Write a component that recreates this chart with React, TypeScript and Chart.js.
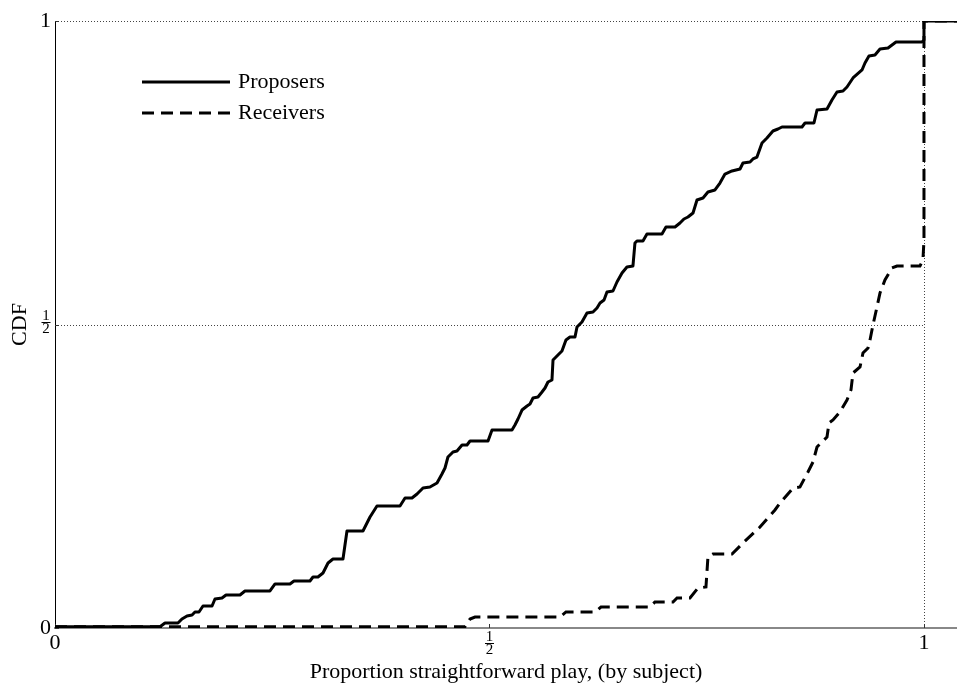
import { useEffect, useRef } from 'react';
import { Chart, registerables } from 'chart.js';

Chart.register(...registerables);

const seriesLabels = ['Proposers', 'Receivers'];

const proposersX = [
  0, 0.1208, 0.1266, 0.1415, 0.1461, 0.1519, 0.1577, 0.1611, 0.1657, 0.1703, 0.1807, 0.1841,
  0.1922, 0.1968, 0.2129, 0.2186, 0.2474, 0.2532, 0.2704, 0.275, 0.2934, 0.2969, 0.3026, 0.3084,
  0.3142, 0.3199, 0.3314, 0.336, 0.3544, 0.3625, 0.3705, 0.397, 0.4028, 0.4108, 0.4166, 0.4235,
  0.4315, 0.4396, 0.4453, 0.4488, 0.4522, 0.458, 0.4626, 0.4684, 0.4741, 0.4776, 0.4983, 0.5029,
  0.5259, 0.5293, 0.5328, 0.5374, 0.5432, 0.5466, 0.5501, 0.5558, 0.5604, 0.5639, 0.5673, 0.5719,
  0.5731, 0.5788, 0.5834, 0.588, 0.5926, 0.5984, 0.6007, 0.6064, 0.6122, 0.6191, 0.6237, 0.6272,
  0.6318, 0.6352, 0.6421, 0.6467, 0.6525, 0.6582, 0.6651, 0.6674, 0.6697, 0.6766, 0.6812, 0.6985,
  0.7031, 0.7135, 0.7192, 0.7238, 0.7284, 0.7342, 0.7388, 0.7457, 0.7514, 0.7595, 0.7652, 0.771,
  0.7791, 0.7883, 0.7917, 0.7998, 0.8032, 0.8078, 0.8136, 0.8193, 0.8262, 0.832, 0.8366, 0.8596,
  0.8631, 0.8734, 0.8769, 0.8884, 0.8941, 0.8999, 0.9068, 0.9114, 0.9183, 0.9287, 0.9321, 0.9367,
  0.9436, 0.9494, 0.9586, 0.9678, 0.9977, 1.0, 1.0, 1.04,
];
const proposersY = [
  0.002, 0.002, 0.0082, 0.0082, 0.0148, 0.0198, 0.0214, 0.0264, 0.0264, 0.0362, 0.0362, 0.0478,
  0.0494, 0.0544, 0.0544, 0.061, 0.061, 0.0725, 0.0725, 0.0774, 0.0774, 0.084, 0.084, 0.0906,
  0.1071, 0.1137, 0.1137, 0.1598, 0.1598, 0.1829, 0.201, 0.201, 0.2142, 0.2142, 0.2208, 0.2306,
  0.2323, 0.2389, 0.2537, 0.2636, 0.2817, 0.29, 0.2916, 0.3015, 0.3015, 0.3081, 0.3081, 0.3262,
  0.3262, 0.3344, 0.3443, 0.3591, 0.3657, 0.369, 0.3789, 0.3806, 0.3888, 0.3954, 0.4053, 0.4086,
  0.4415, 0.4498, 0.4563, 0.4745, 0.4794, 0.4794, 0.4959, 0.5041, 0.5189, 0.5206, 0.5272, 0.5354,
  0.5404, 0.5535, 0.5552, 0.57, 0.5848, 0.5947, 0.5964, 0.6343, 0.6376, 0.6376, 0.6491, 0.6491,
  0.6606, 0.6606, 0.6672, 0.6738, 0.6771, 0.6837, 0.7051, 0.7084, 0.7183, 0.7216, 0.7331, 0.7479,
  0.7529, 0.7562, 0.7661, 0.7677, 0.7727, 0.7759, 0.799, 0.8072, 0.8188, 0.8221, 0.8254, 0.8254,
  0.832, 0.832, 0.8534, 0.855, 0.8699, 0.883, 0.8847, 0.8913, 0.9061, 0.9193, 0.9308, 0.9423,
  0.944, 0.9539, 0.9555, 0.9654, 0.9654, 0.9687, 1.0, 1.0,
];

const receiversX = [
  0, 0.4718, 0.4776, 0.4833, 0.5811, 0.588, 0.6214, 0.6283, 0.6847, 0.6904, 0.7112, 0.7158,
  0.7307, 0.7399, 0.7491, 0.7514, 0.7572, 0.7791, 0.7917, 0.8113, 0.8285, 0.8343, 0.8493, 0.8573,
  0.8665, 0.8723, 0.8769, 0.8826, 0.8884, 0.8907, 0.8953, 0.9033, 0.9114, 0.916, 0.9183, 0.9264,
  0.9298, 0.9356, 0.9379, 0.9413, 0.9459, 0.9494, 0.9551, 0.9632, 0.9689, 0.9954, 0.9988, 1.0,
  1.0, 1.04,
];
const receiversY = [
  0.002, 0.002, 0.0148, 0.0181, 0.0181, 0.0264, 0.0264, 0.0346, 0.0346, 0.0428, 0.0428, 0.0494,
  0.0494, 0.0659, 0.0675, 0.117, 0.1219, 0.1219, 0.14, 0.1664, 0.1944, 0.2059, 0.2306, 0.2323,
  0.257, 0.2735, 0.2982, 0.3064, 0.3147, 0.3377, 0.3427, 0.3558, 0.3756, 0.3921, 0.4201, 0.43,
  0.453, 0.4613, 0.4745, 0.4992, 0.5288, 0.5519, 0.5733, 0.5931, 0.5964, 0.5964, 0.6063, 0.6392,
  1.0, 1.0,
];

const tickValues = [0, 0.5, 1];
const tickLabels = ['0', '', '1'];
const fractionNumerator = '1';
const fractionDenominator = '2';
const fractionTickValue = 0.5;
const gridValues = [0.5, 1];
const xTitle = 'Proportion straightforward play, (by subject)';
const yTitle = 'CDF';

const FONT = "'Liberation Serif', 'Times New Roman', serif";

const decorPlugin = {
  id: 'decor',
  beforeDatasetsDraw(chart: any) {
    const { ctx, scales } = chart;
    const x = scales.x;
    const y = scales.y;
    ctx.save();
    ctx.strokeStyle = '#444';
    ctx.lineWidth = 1;
    ctx.setLineDash([1, 2]);
    const x0 = x.getPixelForValue(0);
    const x1 = Math.round(x.getPixelForValue(1)) + 0.5;
    for (const v of gridValues) {
      const py = Math.round(y.getPixelForValue(v)) + 0.5;
      ctx.beginPath();
      ctx.moveTo(x0, py);
      ctx.lineTo(x1, py);
      ctx.stroke();
    }
    ctx.beginPath();
    ctx.moveTo(x1, y.getPixelForValue(1));
    ctx.lineTo(x1, y.getPixelForValue(0));
    ctx.stroke();
    ctx.setLineDash([]);
    ctx.strokeStyle = '#333';
    for (const v of tickValues) {
      const px = Math.round(x.getPixelForValue(v)) + 0.5;
      ctx.beginPath();
      ctx.moveTo(px, y.getPixelForValue(0));
      ctx.lineTo(px, y.getPixelForValue(0) - 4);
      ctx.stroke();
      const py = Math.round(y.getPixelForValue(v)) + 0.5;
      ctx.beginPath();
      ctx.moveTo(x0, py);
      ctx.lineTo(x0 + 4, py);
      ctx.stroke();
    }
    ctx.restore();
  },
  afterDraw(chart: any) {
    const { ctx, scales, chartArea } = chart;
    const x = scales.x;
    const y = scales.y;
    ctx.save();
    ctx.fillStyle = '#000';
    ctx.strokeStyle = '#000';
    ctx.lineWidth = 1;
    ctx.font = `15px ${FONT}`;
    ctx.textAlign = 'center';
    ctx.textBaseline = 'middle';
    // y-axis fraction tick label
    const yc = y.right - 9;
    const yb = Math.round(y.getPixelForValue(fractionTickValue) - 3) + 0.5;
    ctx.fillText(fractionNumerator, yc, yb - 6);
    ctx.fillText(fractionDenominator, yc, yb + 6.5);
    ctx.beginPath();
    ctx.moveTo(yc - 4.5, yb);
    ctx.lineTo(yc + 4.5, yb);
    ctx.stroke();
    // x-axis fraction tick label
    const xc = x.getPixelForValue(fractionTickValue);
    const xb = Math.round(x.top + 15) + 0.5;
    ctx.fillText(fractionNumerator, xc, xb - 6);
    ctx.fillText(fractionDenominator, xc, xb + 6.5);
    ctx.beginPath();
    ctx.moveTo(xc - 4.5, xb);
    ctx.lineTo(xc + 4.5, xb);
    ctx.stroke();

    // legend
    const lx0 = chartArea.left + 87;
    const lx1 = chartArea.left + 175;
    const rows = [chartArea.top + 61, chartArea.top + 92];
    chart.data.datasets.forEach((ds: any, i: number) => {
      const ly = rows[i];
      ctx.save();
      ctx.lineWidth = ds.borderWidth;
      ctx.setLineDash(ds.borderDash || []);
      ctx.strokeStyle = ds.borderColor;
      ctx.beginPath();
      ctx.moveTo(lx0, ly);
      ctx.lineTo(lx1, ly);
      ctx.stroke();
      ctx.restore();
      ctx.font = `22px ${FONT}`;
      ctx.textAlign = 'left';
      ctx.textBaseline = 'middle';
      ctx.fillText(ds.label, lx1 + 8, ly);
    });
    ctx.restore();
  },
};

function zip(xs: number[], ys: number[]) {
  return xs.map((v, i) => ({ x: v, y: ys[i] }));
}

export default function App() {
  const ref = useRef<HTMLCanvasElement | null>(null);
  useEffect(() => {
    if (!ref.current) return;
    const chart = new Chart(ref.current, {
      type: 'scatter',
      data: {
        datasets: [
          {
            label: seriesLabels[0],
            data: zip(proposersX, proposersY),
            showLine: true,
            borderColor: '#000',
            backgroundColor: '#000',
            borderWidth: 3,
            pointRadius: 0,
            tension: 0,
            borderJoinStyle: 'round',
          },
          {
            label: seriesLabels[1],
            data: zip(receiversX, receiversY),
            showLine: true,
            borderColor: '#000',
            backgroundColor: '#000',
            borderWidth: 3,
            borderDash: [12, 7],
            pointRadius: 0,
            tension: 0,
          },
        ],
      },
      options: {
        animation: false,
        responsive: false,
        maintainAspectRatio: false,
        layout: { padding: { top: 21, left: 0, right: 0, bottom: 0 } },
        plugins: { legend: { display: false }, tooltip: { enabled: false } },
        scales: {
          x: {
            type: 'linear',
            min: 0,
            max: 1.038,
            afterBuildTicks: (s: any) => {
              s.ticks = tickValues.map((v) => ({ value: v }));
            },
            afterFit: (s: any) => {
              s.height = 65;
            },
            ticks: {
              color: '#000',
              font: { family: FONT, size: 22 },
              padding: 2,
              maxRotation: 0,
              autoSkip: false,
              callback: (v: any) => tickLabels[tickValues.indexOf(Number(v))] ?? '',
            },
            grid: { display: false, drawTicks: false },
            border: { display: true, color: '#888', width: 2 },
            title: {
              display: true,
              text: xTitle,
              color: '#000',
              font: { family: FONT, size: 22 },
              padding: { top: 0, bottom: 8 },
            },
          },
          y: {
            type: 'linear',
            min: 0,
            max: 1,
            afterBuildTicks: (s: any) => {
              s.ticks = tickValues.map((v) => ({ value: v }));
            },
            afterFit: (s: any) => {
              s.width = 55;
            },
            ticks: {
              color: '#000',
              font: { family: FONT, size: 22 },
              padding: 4,
              autoSkip: false,
              callback: (v: any) => tickLabels[tickValues.indexOf(Number(v))] ?? '',
            },
            grid: { display: false, drawTicks: false },
            border: { display: true, color: '#000', width: 1 },
            title: {
              display: true,
              text: yTitle,
              color: '#000',
              font: { family: FONT, size: 22 },
              padding: { top: 7, bottom: 0 },
            },
          },
        },
      } as any,
      plugins: [decorPlugin],
    });
    return () => chart.destroy();
  }, []);
  return (
    <div style={{ position: 'absolute', left: 0, top: 0, width: 957, height: 693, background: '#fff' }}>
      <canvas ref={ref} width={957} height={693} style={{ width: 957, height: 693 }} />
    </div>
  );
}
